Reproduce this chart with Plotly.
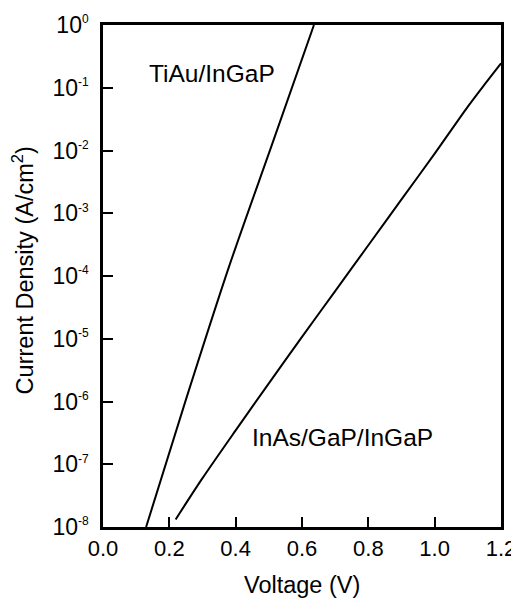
import plotly.graph_objects as go

# TiAu/InGaP curve
tiau_v = [0.130, 0.250, 0.380, 0.510, 0.636]
tiau_j = [1.0e-8, 1.07e-6, 1.41e-4, 1.26e-2, 1.0]

# InAs/GaP/InGaP curve
inas_v = [0.219, 0.300, 0.400, 0.500, 0.600, 0.700, 0.800, 0.900, 1.000, 1.100, 1.150, 1.200]
inas_j = [1.32e-8, 6.0e-8, 3.47e-7, 1.95e-6, 1.07e-5, 5.75e-5, 3.09e-4, 1.66e-3,
          8.9e-3, 5.0e-2, 0.112, 0.245]

x_ticks = [0.0, 0.2, 0.4, 0.6, 0.8, 1.0, 1.2]
x_ticktext = ["0.0", "0.2", "0.4", "0.6", "0.8", "1.0", "1.2"]
y_exponents = [0, -1, -2, -3, -4, -5, -6, -7, -8]

x_title = "Voltage (V)"
y_title = "Current Density (A/cm<sup>2</sup>)"

FONT = "Arial, Liberation Sans, Helvetica, sans-serif"

fig = go.Figure()
fig.add_trace(go.Scatter(x=tiau_v, y=tiau_j, mode="lines",
                         line=dict(color="black", width=2, shape="spline", smoothing=0.8),
                         showlegend=False))
fig.add_trace(go.Scatter(x=inas_v, y=inas_j, mode="lines",
                         line=dict(color="black", width=2, shape="spline", smoothing=0.8),
                         showlegend=False))

fig.add_annotation(x=0.33, y=-0.78, xref="x", yref="y", text="TiAu/InGaP",
                   showarrow=False, font=dict(size=24.5, color="black", family=FONT))
fig.add_annotation(x=0.721, y=-6.58, xref="x", yref="y", text="InAs/GaP/InGaP",
                   showarrow=False, font=dict(size=24.5, color="black", family=FONT))

# axis titles placed as annotations for exact positioning
fig.add_annotation(x=0.501, y=-0.1155, xref="paper", yref="paper", text=x_title,
                   showarrow=False, xanchor="center", yanchor="middle",
                   font=dict(size=23.5, color="black", family=FONT))
fig.add_annotation(x=-0.200, y=0.512, xref="paper", yref="paper", text=y_title,
                   showarrow=False, xanchor="center", yanchor="middle", textangle=-90,
                   font=dict(size=23.5, color="black", family=FONT))

fig.update_layout(
    width=511, height=591,
    margin=dict(l=95, r=18, t=17, b=72),
    paper_bgcolor="white", plot_bgcolor="white",
    font=dict(family=FONT, color="black", size=23),
    xaxis=dict(
        range=[0, 1.2], tickvals=x_ticks, ticktext=x_ticktext,
        ticks="inside", ticklen=10, tickwidth=2, tickcolor="black",
        showline=True, linewidth=2.5, linecolor="black", mirror=True,
        showgrid=False, zeroline=False, automargin=False,
        tickfont=dict(size=22),
    ),
    yaxis=dict(
        type="log", range=[-8, 0],
        tickvals=[10.0 ** e for e in y_exponents],
        ticktext=["10<sup><span style='font-size:12px'>%d</span></sup>" % e for e in y_exponents],
        ticks="inside", ticklen=10, tickwidth=2, tickcolor="black",
        showline=True, linewidth=2.5, linecolor="black", mirror=True,
        showgrid=False, zeroline=False, automargin=False,
        ticklabelstandoff=7,
        tickfont=dict(size=23),
    ),
)

fig.write_html("out.html")
